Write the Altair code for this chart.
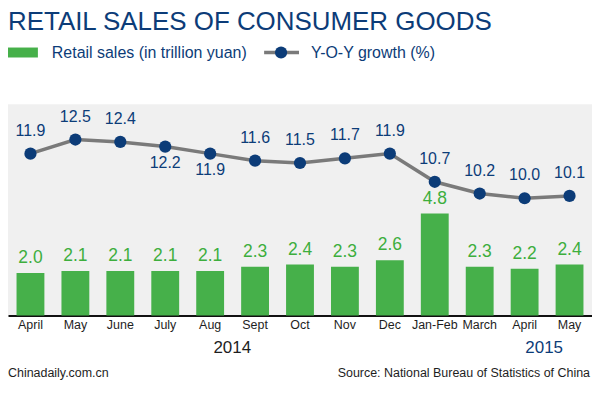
import altair as alt
import pandas as pd

# ---- data ----
months = ["April", "May", "June", "July", "Aug", "Sept", "Oct", "Nov", "Dec",
          "Jan-Feb", "March", "April", "May"]
years = ["2014"] * 9 + ["2015"] * 4
retail_sales = [2.0, 2.1, 2.1, 2.1, 2.1, 2.3, 2.4, 2.3, 2.6, 4.8, 2.3, 2.2, 2.4]
yoy_growth = [11.9, 12.5, 12.4, 12.2, 11.9, 11.6, 11.5, 11.7, 11.9, 10.7, 10.2, 10.0, 10.1]
growth_labels_below = ["July|2014", "Aug|2014"]
year_labels = ["2014", "2015"]

title_text = "RETAIL SALES OF CONSUMER GOODS"
legend_bar_text = "Retail sales (in trillion yuan)"
legend_line_text = "Y-O-Y growth (%)"
footer_left = "Chinadaily.com.cn"
footer_right = "Source: National Bureau of Statistics of China"

keys = [f"{m}|{y}" for m, y in zip(months, years)]
df = pd.DataFrame({"key": keys, "sales": retail_sales, "growth": yoy_growth})
df["below"] = df["key"].isin(growth_labels_below)

FONT = "Liberation Sans"
GREEN = "#46b04a"
GREEN_TXT = "#3dae3d"
NAVY = "#0c3c78"
GRAY = "#7a7a7a"
DARK = "#1e1e1e"

x = alt.X(
    "key:N", sort=keys,
    scale=alt.Scale(paddingInner=0.38, paddingOuter=0.19),
    axis=alt.Axis(title=None, labelExpr="split(datum.label,'|')[0]", labelAngle=0,
                  ticks=False, tickSize=0, labelPadding=3, labelFontSize=12.5,
                  labelColor=DARK, labelFont=FONT, domainColor="#111",
                  domainWidth=2, grid=False),
)
y_bar = alt.Y("sales:Q", scale=alt.Scale(domain=[0, 9.93], nice=False, zero=True), axis=None)
y_line = alt.Y("growth:Q", scale=alt.Scale(domain=[5, 14], nice=False, zero=False), axis=None)

base = alt.Chart(df)

bars = base.mark_bar(color=GREEN).encode(x=x, y=y_bar)
bar_text = base.mark_text(color=GREEN_TXT, font=FONT, fontSize=17.5, baseline="middle", dy=-15).encode(
    x=x, y=y_bar, text=alt.Text("sales:Q", format=".1f"))

line = base.mark_line(color=GRAY, strokeWidth=3.5).encode(x=x, y=y_line)
points = base.mark_point(filled=True, color=NAVY, opacity=1, size=150).encode(x=x, y=y_line)
txt_above = base.transform_filter("!datum.below").mark_text(
    color=NAVY, font=FONT, fontSize=16, baseline="middle", dy=-23).encode(
    x=x, y=y_line, text=alt.Text("growth:Q", format=".1f"))
txt_below = base.transform_filter("datum.below").mark_text(
    color=NAVY, font=FONT, fontSize=16, baseline="middle", dy=16).encode(
    x=x, y=y_line, text=alt.Text("growth:Q", format=".1f"))


def label(text, px, py, size, color, align="left", baseline="alphabetic"):
    return alt.Chart(pd.DataFrame({"t": [text]})).mark_text(
        font=FONT, fontSize=size, color=color, align=align, baseline=baseline
    ).encode(text="t:N", x=alt.value(px), y=alt.value(py))


title = label(title_text, 0, -96, 26, NAVY, baseline="top")
leg_rect = alt.Chart(pd.DataFrame({"k": [legend_bar_text]})).mark_rect(color=GREEN).encode(
    x=alt.value(0), x2=alt.value(30), y=alt.value(-57), y2=alt.value(-47))
leg_text1 = label(legend_bar_text, 44, -46.5, 16, NAVY)
leg_rule = alt.Chart(pd.DataFrame({"k": [legend_line_text]})).mark_rule(color=GRAY, strokeWidth=3.5).encode(
    x=alt.value(257), x2=alt.value(292), y=alt.value(-52))
leg_pt = alt.Chart(pd.DataFrame({"k": [legend_line_text]})).mark_point(
    filled=True, color=NAVY, opacity=1, size=150).encode(x=alt.value(274), y=alt.value(-52))
leg_text2 = label(legend_line_text, 304, -46.5, 16, NAVY)

yr1 = label(year_labels[0], 225, 250, 17, DARK, align="center")
yr2 = label(year_labels[1], 538, 250, 17, NAVY, align="center")
foot1 = label(footer_left, 0, 274, 12.5, DARK)
foot2 = label(footer_right, 584, 274, 12.5, DARK, align="right")

chart = alt.layer(
    bars, bar_text, line, points, txt_above, txt_below,
    title, leg_rect, leg_text1, leg_rule, leg_pt, leg_text2,
    yr1, yr2, foot1, foot2,
).resolve_scale(y="independent").properties(
    width=586, height=212, autosize="none",
    padding={"left": 0, "top": 96, "right": 0, "bottom": 78},
    background="white",
).configure_view(fill="#f0f0f0", strokeWidth=0)

chart.save("out.html", embed_options={"renderer": "svg", "actions": False})
